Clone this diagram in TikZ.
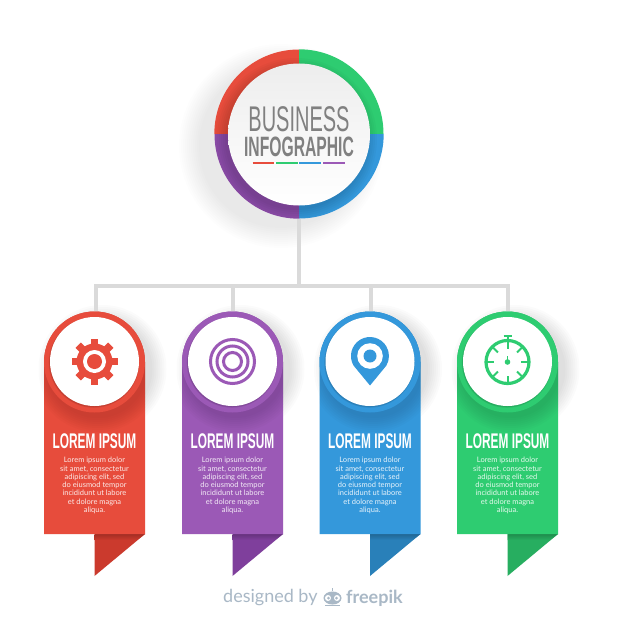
\documentclass[tikz,border=0pt]{standalone}
\usepackage{fontspec}
\usetikzlibrary{shapes.geometric}
\setmainfont{Lato}
\newfontfamily\titlefont[FakeStretch=0.56]{Liberation Sans}
\definecolor{cardred}{HTML}{E74C3C}
\definecolor{cardpurple}{HTML}{9B59B6}
\definecolor{cardblue}{HTML}{3498DB}
\definecolor{cardgreen}{HTML}{2ECC71}
\definecolor{tailred}{HTML}{CB3A2D}
\definecolor{tailpurple}{HTML}{7F3F9C}
\definecolor{tailblue}{HTML}{2980B9}
\definecolor{tailgreen}{HTML}{27AE60}
\definecolor{wiregray}{HTML}{DADADA}
\definecolor{hubtext}{HTML}{808080}
\definecolor{footgray}{HTML}{A9B8C6}
\tikzset{
    wire/.style={draw=wiregray, line width=4pt},
    headring/.style={circle, minimum size=101pt, inner sep=0pt},
    disc/.style={circle, minimum size=89pt, inner sep=0pt, fill=white},
    cardtitle/.style={text=white, inner sep=0pt, font=\titlefont\bfseries\fontsize{21.2}{23}\selectfont},
    cardtext/.style={inner sep=0pt, align=center, font=\fontsize{7.5}{8.3}\selectfont},
    underline/.style={line width=1.4pt}
}
\newcommand{\loremtext}{Lorem ipsum dolor\\sit amet, consectetur\\adipiscing elit, sed\\do eiusmod tempor\\incididunt ut labore\\et dolore magna\\aliqua.}
\begin{document}
\begin{tikzpicture}[x=1pt, y=-1pt]
    \useasboundingbox[fill=white] (0,0) rectangle (626,626);

    % hub shadow
    \foreach \r in {20,18,...,0}
        \fill[black, opacity=0.009] (281,146) circle ({82+\r*1pt});

    % hub ring
    \node[circle, minimum size=169pt, inner sep=0pt] (hubring) at (299,134) {};
    \fill[cardred] (hubring.center) -- (hubring.west) arc[start angle=180, end angle=90, radius=84.5pt] -- cycle;
    \fill[cardgreen] (hubring.center) -- (hubring.north) arc[start angle=90, end angle=0, radius=84.5pt] -- cycle;
    \fill[cardblue] (hubring.center) -- (hubring.east) arc[start angle=0, end angle=-90, radius=84.5pt] -- cycle;
    \fill[tailpurple!50!cardpurple] (hubring.center) -- (hubring.south) arc[start angle=-90, end angle=-180, radius=84.5pt] -- cycle;
    \begin{scope}
        \clip (hubring.center) circle (84.5pt);
        \foreach \r in {10,8,...,0}
            \fill[black, opacity=0.025] (296,139) circle ({71+\r*1pt});
    \end{scope}
    \node[circle, minimum size=142pt, inner sep=0pt, top color=black!7, bottom color=white] (hubdisc) at (299,134.5) {};
    \node[text=hubtext, inner sep=0pt, font=\titlefont\fontsize{35.7}{37}\selectfont] (hubtitle) at (299,119.5) {BUSINESS};
    \node[text=hubtext, inner sep=0pt, font=\titlefont\bfseries\fontsize{28}{29}\selectfont] (hubsub) at (299,147) {INFOGRAPHIC};
    \draw[underline, cardred] (252.5,163) -- (274,163);
    \draw[underline, cardgreen] (276,163) -- (298,163);
    \draw[underline, cardblue] (299,163) -- (321,163);
    \draw[underline, cardpurple] (323,163) -- (345,163);

    % cards
    \foreach \name/\cx/\col/\dark in {red/94.5/cardred/tailred, purple/232.5/cardpurple/tailpurple,
            blue/370/cardblue/tailblue, green/507.5/cardgreen/tailgreen} {
        \foreach \r in {14,12,...,0}
            \fill[black, opacity=0.016] (\cx,362) ++(8,7) circle ({50+\r*1pt});
        \fill[\dark] (\cx,534) -- ++(50.5,0) -- (\cx,576) -- cycle;
        \shade[top color=\dark!80!black, bottom color=\dark] (\cx,534) -- ++(50.5,0) -- ++(-8,6) -- (\cx,540) -- cycle;
        \fill[\col] (\cx,534) ++(-50.5,0) -- ++(0,-172) arc[start angle=180, end angle=0, radius=50.5pt] -- ++(0,172) -- cycle;
        \begin{scope}
            \clip (\cx,534) ++(-50.5,0) -- ++(0,-172) arc[start angle=180, end angle=0, radius=50.5pt] -- ++(0,172) -- cycle;
            \foreach \r in {14,12,...,0}
                \fill[\dark!70!black, opacity=0.045] (\cx,362) ++(3,6) circle ({50+\r*1pt});
        \end{scope}
        \node[headring, fill=\col] (head-\name) at (\cx,362) {};
        \foreach \r in {2,1,0}
            \fill[\dark!50!black, opacity=0.1] (\cx,362) ++(-0.5,0.5) circle ({44.5+\r*0.4pt});
        \node[disc] (disc-\name) at (\cx,361.5) {};
        \node[cardtitle] (title-\name) at (\cx,441) {LOREM IPSUM};
        \node[cardtext, text=white!88!\col, anchor=north] (text-\name) at (\cx,457) {\loremtext};
    }

    % connectors
    \coordinate (bus) at (hubring.south |- 0,286);
    \draw[wire] (hubring.south) -- (bus);
    \draw[wire] ([xshift=1.5pt]head-red.north) |- (bus) -| (head-green.north);
    \draw[wire] (head-purple.north) -- (head-purple.north |- bus);
    \draw[wire] ([xshift=1pt]head-blue.north) -- ([xshift=1pt]head-blue.north |- bus);

    % gear icon
    \begin{scope}[shift={(disc-red.center)}]
        \foreach \a in {0,45,...,315}
            \fill[cardred, rotate=\a] (-3.8,-23) rectangle (3.8,-14);
        \fill[cardred] (0,0) circle (18pt);
        \fill[white] (0,0) circle (11.5pt);
        \fill[cardred] (0,0) circle (7.5pt);
    \end{scope}

    % target icon
    \begin{scope}[shift={(disc-purple.center)}]
        \foreach \r in {22,15.5,9}
            \draw[cardpurple, line width=3pt] (0,0) circle ({\r*1pt});
    \end{scope}

    % pin icon
    \begin{scope}[shift={(disc-blue.center)}]
        \fill[cardblue] (0,24) -- (-16.5,4) arc[start angle=210, end angle=-30, radius=19pt] -- cycle;
        \fill[white] (0,-5.5) circle (12.8pt);
        \fill[cardblue] (0,-5.5) circle (6.5pt);
    \end{scope}

    % stopwatch icon
    \begin{scope}[shift={(disc-green.center)}]
        \draw[cardgreen, line width=3.2pt] (0,0.5) circle (21.5pt);
        \foreach \a in {0,45,...,315}
            \draw[cardgreen, line width=2pt, rotate around={\a:(0,0.5)}] (0,-20) -- (0,-13);
        \draw[cardgreen, line width=2pt] (0,-21) -- (0,-25);
        \draw[cardgreen, line width=1.8pt] (-4,-25.5) -- (4,-25.5);
        \fill[cardgreen] (0,0.5) circle (2.8pt);
        \draw[cardgreen, line width=1.4pt] (0,0.5) -- (0,-6);
    \end{scope}

    % footer
    \node[text=footgray, inner sep=0pt, anchor=west, font=\fontsize{18}{19}\selectfont] (footby) at (223,598) {designed by};
    \node[ellipse, fill=footgray, minimum width=18pt, minimum height=13pt, inner sep=0pt] (footlogo) at (332.5,598) {};
    \fill[white] (328,598) circle (3pt);
    \fill[white] (337,598) circle (3pt);
    \fill[footgray] (328.5,598) circle (1.5pt);
    \fill[footgray] (336.5,598) circle (1.5pt);
    \draw[footgray, line width=1.4pt] (332.5,591) -- (332.5,587.5);
    \draw[footgray, line width=1.2pt] (325,605.5) -- (340,605.5);
    \node[text=footgray, inner sep=0pt, anchor=west, font=\bfseries\fontsize{18}{19}\selectfont] (footname) at (346,598) {freepik};
\end{tikzpicture}
\end{document}
